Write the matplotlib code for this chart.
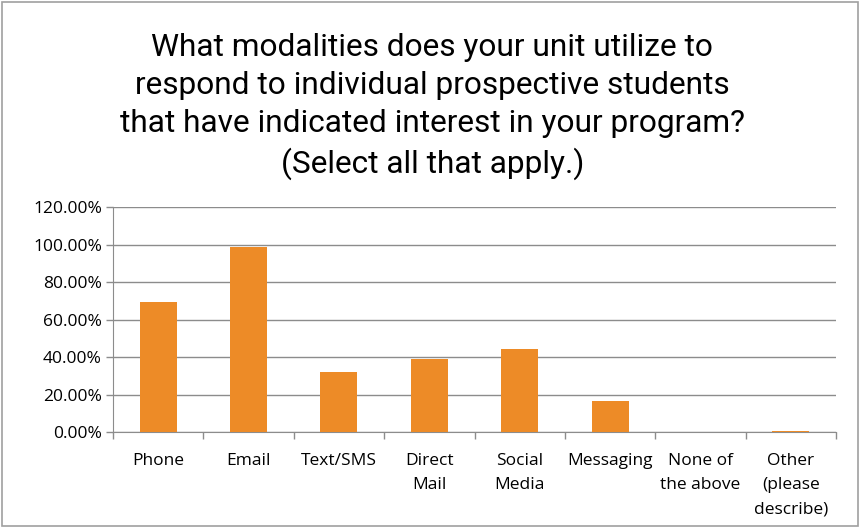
import matplotlib
matplotlib.use("Agg")
import matplotlib.pyplot as plt
import numpy as np
from matplotlib.patches import Rectangle
from matplotlib.ticker import FuncFormatter, FixedLocator

# data
categories = ["Phone", "Email", "Text/SMS", "Direct\nMail", "Social\nMedia",
              "Messaging", "None of\nthe above", "Other\n(please\ndescribe)"]
shares = [69.4, 98.6, 31.9, 38.9, 44.4, 16.7, 0.0, 0.4]
y_ticks = [0, 20, 40, 60, 80, 100, 120]

title = ("What modalities does your unit utilize to\n"
         "respond to individual prospective students\n"
         "that have indicated interest in your program?\n"
         "(Select all that apply.)")

bar_color = "#ED8B27"
grid_color = "#8C8C8C"
tick_font = "Open Sans"

fig = plt.figure(figsize=(8.61, 5.27), dpi=100)
ax = fig.add_axes([113 / 861, 0.180, (836 - 113) / 861, 0.607 - 0.180])

x = np.arange(len(categories))
ax.bar(x, shares, width=0.41, color=bar_color, zorder=3)

ax.set_xlim(-0.5, len(categories) - 0.5)
ax.set_ylim(0, 120)
ax.set_yticks(y_ticks)
ax.yaxis.set_major_formatter(FuncFormatter(lambda v, p: f"{v:.2f}%"))
ax.grid(axis="y", color=grid_color, linewidth=1.0, zorder=0)

ax.set_xticks(x)
ax.set_xticklabels(categories, fontsize=12.5, family=tick_font, linespacing=1.7)
ax.xaxis.set_minor_locator(FixedLocator(np.arange(len(categories) + 1) - 0.5))
ax.tick_params(axis="x", which="major", length=0, pad=15)
ax.tick_params(axis="x", which="minor", length=5, color=grid_color, width=1)
ax.tick_params(axis="y", length=5, color=grid_color, width=1, labelsize=12.5, pad=3)
for lbl in ax.get_yticklabels():
    lbl.set_family(tick_font)

for s in ["top", "right"]:
    ax.spines[s].set_visible(False)
ax.spines["left"].set_color(grid_color)
ax.spines["bottom"].set_color(grid_color)

fig.text(0.502, 0.937, title, ha="center", va="top", fontsize=22.8,
         family="Roboto", linespacing=1.38)

# outer frame of the chart area
fig.patches.append(Rectangle((0.002, 0.002), 0.994, 0.994, transform=fig.transFigure,
                             fill=False, edgecolor="#A0A0A0", linewidth=1.2))

fig.savefig("out.png", dpi=100)
